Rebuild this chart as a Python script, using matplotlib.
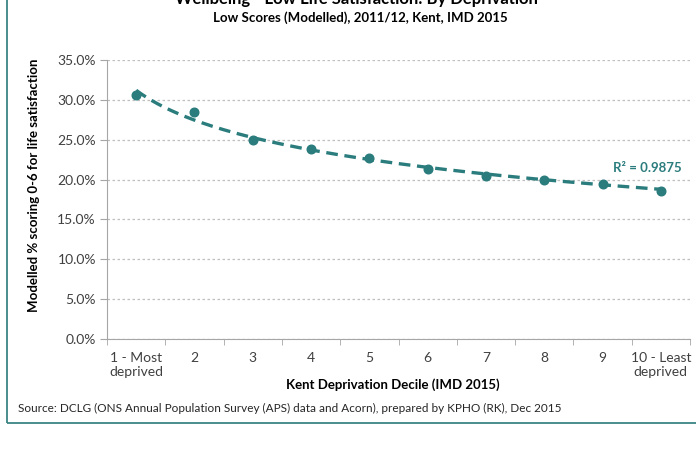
import numpy as np
import matplotlib
matplotlib.use("Agg")
import matplotlib.pyplot as plt
from matplotlib.patches import Rectangle
from matplotlib.ticker import FuncFormatter

plt.rcParams['font.family'] = ['Lato', 'DejaVu Sans']

# modelled % scoring 0-6 for life satisfaction, by IMD 2015 decile
deciles = [1, 2, 3, 4, 5, 6, 7, 8, 9, 10]
decile_labels = ['1 - Most\ndeprived', '2', '3', '4', '5', '6', '7', '8', '9',
                 '10 - Least\ndeprived']
low_scores = [30.6, 28.5, 25.0, 23.8, 22.7, 21.3, 20.5, 20.0, 19.5, 18.6]
r_squared_label = 'R² = 0.9875'

teal = '#2B7C7D'

fig = plt.figure(figsize=(6.96, 4.51), dpi=100)
ax = fig.add_axes([107/696, 1-339/451, 583/696, 279/451])

x = np.arange(len(deciles))
y = np.array(low_scores) / 100

# logarithmic trendline
a, b = np.polyfit(np.log(deciles), y, 1)
xs = np.linspace(1, 10, 200)
ax.plot(xs - 1, a*np.log(xs) + b, '--', color=teal, lw=2.4, dashes=(3.5, 2))
ax.plot(x, y, 'o', color=teal, ms=6.2, zorder=3)

ax.text(8.18, 0.2145, r_squared_label, color=teal, fontsize=9.5,
        fontweight='bold', ha='left', va='center')

ax.set_xlim(-0.5, 9.5)
ax.set_ylim(0, 0.35)
ax.set_yticks(np.arange(0, 0.351, 0.05))
ax.yaxis.set_major_formatter(FuncFormatter(lambda v, p: '%.1f%%' % (v*100)))
ax.set_xticks(x)
ax.set_xticklabels(decile_labels)
ax.set_xticks(np.arange(-0.5, 9.6, 1), minor=True)
ax.tick_params(axis='x', which='major', length=0, pad=9, labelsize=10,
               colors='#404040')
ax.tick_params(axis='x', which='minor', length=4, color='#A6A6A6')
ax.tick_params(axis='y', length=5, color='#A6A6A6', labelsize=10,
               labelcolor='#404040', pad=3)

ax.grid(axis='y', color='#BFBFBF', linestyle=(0, (2, 2)), lw=0.9)
ax.set_axisbelow(True)
for s in ['top', 'right']:
    ax.spines[s].set_visible(False)
for s in ['left', 'bottom']:
    ax.spines[s].set_color('#A6A6A6')

ax.set_ylabel('Modelled % scoring 0-6 for life satisfaction', fontsize=9.5,
              fontweight='bold', color='black')
ax.yaxis.set_label_coords(-0.115, 0.55)
ax.set_xlabel('Kent Deprivation Decile (IMD 2015)', fontsize=9.5,
              fontweight='bold', color='black')
ax.xaxis.set_label_coords(0.49, -0.14)

fig.text(356/696, 1+1/451, 'Wellbeing - Low Life Satisfaction: By Deprivation',
         ha='center', va='center', fontsize=12, fontweight='bold')
fig.text(360/696, 1-18/451, 'Low Scores (Modelled), 2011/12, Kent, IMD 2015',
         ha='center', va='center', fontsize=9.5, fontweight='bold')
fig.text(18/696, 1-408/451,
         'Source: DCLG (ONS Annual Population Survey (APS) data and Acorn), '
         'prepared by KPHO (RK), Dec 2015',
         ha='left', va='center', fontsize=8.5, color='#262626')

fig.patches.append(Rectangle((7/696, 1-423/451), 1, 1, transform=fig.transFigure,
                             fill=False, edgecolor='#3B8585', lw=1.3))

fig.savefig('out.png', dpi=100)
